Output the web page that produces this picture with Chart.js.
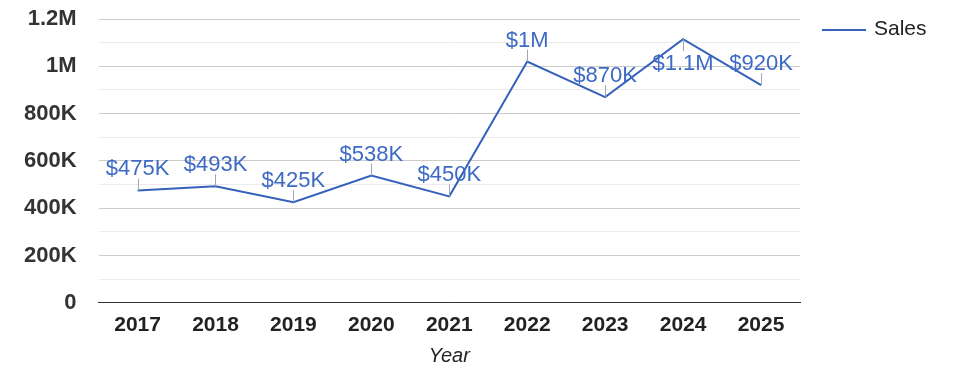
<!DOCTYPE html>
<html>
<head>
<meta charset="utf-8">
<script src="https://cdn.jsdelivr.net/npm/chart.js@4"></script>
<style>
html,body{margin:0;padding:0;background:#fff;font-family:'Liberation Sans', Arial, sans-serif;}
canvas{display:block;}
</style>
</head>
<body>
<canvas id="c" width="975" height="378"></canvas>
<script>
const years = ['2017','2018','2019','2020','2021','2022','2023','2024','2025'];
const sales = [475000, 493000, 425000, 538000, 450000, 1020000, 870000, 1115000, 920000];
const seriesName = 'Sales';
const axisTitle = 'Year';

const FONT = "'Liberation Sans', Arial, sans-serif";
const LINE = '#3560bb';
const LABEL = '#3d6ac4';

function money(v){
  if (v >= 1e6) { return '$' + (Math.round(v/1e5)/10).toString() + 'M'; }
  return '$' + Math.round(v/1000) + 'K';
}
function tickFmt(v){
  if (v === 0) return '0';
  if (v >= 1e6) return (v/1e6).toString() + 'M';
  return (v/1000) + 'K';
}

const annotations = {
  id: 'annotations',
  afterDatasetsDraw(chart){
    const ctx = chart.ctx;
    const meta = chart.getDatasetMeta(0);
    const area = chart.chartArea;
    ctx.save();
    ctx.font = '22px ' + FONT;
    ctx.textAlign = 'center';
    meta.data.forEach((pt, i) => {
      const txt = money(sales[i]);
      const stem = 12;
      const h = 17;
      let above = (pt.y - stem - 3 - h) >= area.top;
      ctx.strokeStyle = '#a0a8b8';
      ctx.lineWidth = 1;
      ctx.beginPath();
      const sx = Math.round(pt.x) + 0.5;
      if (above) { ctx.moveTo(sx, pt.y); ctx.lineTo(sx, pt.y - stem); }
      else { ctx.moveTo(sx, pt.y); ctx.lineTo(sx, pt.y + stem); }
      ctx.stroke();
      ctx.fillStyle = LABEL;
      ctx.textBaseline = 'alphabetic';
      if (above) { ctx.fillText(txt, pt.x, pt.y - stem - 3); }
      else { ctx.fillText(txt, pt.x, pt.y + stem + 19); }
    });
    ctx.restore();
  }
};

const legendPlugin = {
  id: 'customLegend',
  afterDraw(chart){
    const ctx = chart.ctx;
    const x0 = chart.chartArea.right + 22;
    const y = chart.chartArea.top + 11;
    ctx.save();
    ctx.strokeStyle = LINE;
    ctx.lineWidth = 2;
    ctx.beginPath();
    ctx.moveTo(x0, y); ctx.lineTo(x0 + 44, y);
    ctx.stroke();
    ctx.fillStyle = '#222';
    ctx.font = '21px ' + FONT;
    ctx.textAlign = 'left';
    ctx.textBaseline = 'middle';
    ctx.fillText(seriesName, x0 + 52, y - 1);
    ctx.restore();
  }
};

function build(){
  new Chart(document.getElementById('c'), {
    type: 'line',
    data: {
      labels: years,
      datasets: [{
        label: seriesName,
        data: sales,
        borderColor: LINE,
        backgroundColor: LINE,
        borderWidth: 2,
        pointRadius: 0,
        tension: 0,
        clip: false
      }]
    },
    options: {
      responsive: false,
      animation: false,
      devicePixelRatio: 1,
      layout: { autoPadding: false, padding: { left: 2, right: 175, top: 19, bottom: 10 } },
      plugins: { legend: { display: false }, tooltip: { enabled: false } },
      scales: {
        x: {
          offset: true,
          grid: { display: false, drawTicks: false },
          border: { display: true, color: '#333', width: 1 },
          ticks: { color: '#222', font: { family: FONT, size: 21, weight: 'bold' }, padding: 10, maxRotation: 0 },
          title: { display: true, text: axisTitle, color: '#222', font: { family: FONT, size: 20, style: 'italic' }, padding: { top: -4, bottom: 0 } },
          afterFit: (s) => { s.paddingLeft = 0; s.paddingRight = 0; }
        },
        y: {
          min: 0, max: 1200000,
          border: { display: false },
          grid: {
            drawTicks: false,
            color: (c) => {
              const v = c.tick ? c.tick.value : 0;
              if (v === 0) return '#333';
              return (v % 200000 === 0) ? '#cccccc' : '#ebebeb';
            }
          },
          ticks: {
            stepSize: 100000,
            autoSkip: false,
            color: '#333',
            padding: 22,
            font: { family: FONT, size: 22, weight: 'bold' },
            callback: (v) => (v % 200000 === 0) ? tickFmt(v) : ''
          },
          afterFit: (s) => { s.paddingTop = 0; s.paddingBottom = 0; }
        }
      }
    },
    plugins: [annotations, legendPlugin]
  });
}
Promise.all([
  document.fonts.load("22px 'Liberation Sans'"),
  document.fonts.load("bold 22px 'Liberation Sans'"),
  document.fonts.load("italic 20px 'Liberation Sans'")
]).then(build, build);
</script>
</body>
</html>
